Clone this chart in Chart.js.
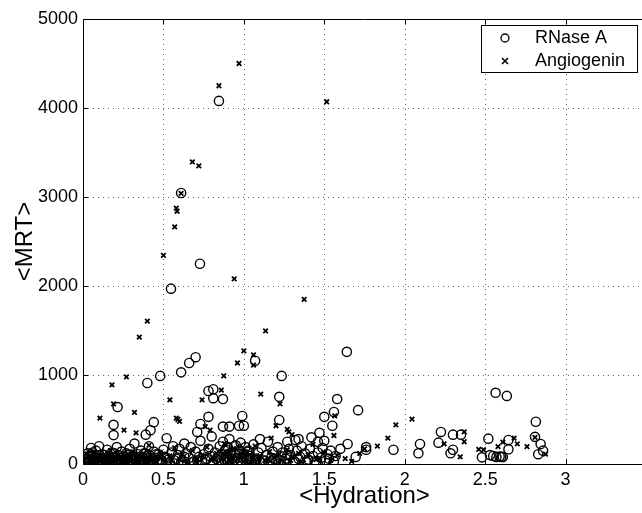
<!DOCTYPE html>
<html>
<head>
<meta charset="utf-8">
<script src="https://cdn.jsdelivr.net/npm/chart.js@4.4.1/dist/chart.umd.min.js"></script>
<style>
  html, body { margin: 0; padding: 0; background: #fff; overflow: hidden; }
  #wrap { position: relative; width: 660px; height: 513px; }
</style>
</head>
<body>
<div id="wrap"><canvas id="scatter"></canvas></div>
<script>
// tick values
const xTicks = [0, 0.5, 1, 1.5, 2, 2.5, 3, 3.5];
const yTicks = [0, 1000, 2000, 3000, 4000, 5000];

// RNase A (cercles) : x = hydration, y = MRT
const rnaseX = [
  0.845, 0.61, 0.727, 0.547, 1.64, 0.70, 0.66, 1.07, 0.61, 0.48, 1.235, 0.40, 0.78, 0.81, 0.81, 0.87,
  1.22, 1.58, 0.215, 1.71, 1.56, 1.5, 0.78, 0.99, 1.22, 0.44, 0.19, 0.73, 0.87, 0.91, 0.97, 1.0,
  1.55, 0.19, 0.42, 0.39, 0.71, 1.47, 2.565, 2.635, 2.815, 2.225, 2.3, 2.35, 2.21, 2.095, 2.085, 2.3,
  2.285, 2.52, 2.48, 2.53, 2.55, 2.57, 2.59, 2.6, 2.61, 2.645, 2.645, 2.81, 2.845, 2.83, 2.86, 1.93,
  1.76, 1.76, 1.645, 1.6, 1.695, 1.1, 1.27, 1.32, 1.34, 1.46,
  0.01, 0.02, 0.03, 0.04, 0.05, 0.06, 0.07, 0.08, 0.09, 0.10, 0.11, 0.12, 0.13, 0.14, 0.15, 0.16,
  0.17, 0.18, 0.19, 0.20, 0.21, 0.22, 0.23, 0.24, 0.25, 0.26, 0.27, 0.28, 0.29, 0.30, 0.31, 0.32,
  0.33, 0.34, 0.35, 0.36, 0.37, 0.38, 0.39, 0.40, 0.41, 0.42, 0.43, 0.44, 0.45, 0.47, 0.49, 0.50,
  0.51, 0.52, 0.53, 0.55, 0.56, 0.58, 0.59, 0.60, 0.62, 0.63, 0.64, 0.66, 0.67, 0.69, 0.70, 0.72,
  0.73, 0.75, 0.76, 0.78, 0.79, 0.80, 0.82, 0.83, 0.85, 0.86, 0.87, 0.88, 0.89, 0.90, 0.91, 0.92,
  0.93, 0.94, 0.95, 0.96, 0.97, 0.98, 0.99, 1.00, 1.01, 1.02, 1.03, 1.04, 1.06, 1.08, 1.09, 1.11,
  1.12, 1.14, 1.15, 1.17, 1.18, 1.20, 1.21, 1.23, 1.24, 1.26, 1.28, 1.29, 1.31, 1.33, 1.35, 1.36,
  1.38, 1.40, 1.41, 1.43, 1.44, 1.46, 1.48, 1.49, 1.51, 1.52, 1.53, 1.54, 1.56, 1.57,
  0.02, 0.04, 0.06, 0.08, 0.12, 0.16, 0.20, 0.24, 0.28, 0.33, 0.37, 0.41, 0.46, 0.54, 0.61, 0.68,
  0.74, 0.81, 0.84, 0.90, 0.93, 1.05, 1.10, 1.16, 1.25, 1.32, 1.39, 1.45,
  0.015, 0.035, 0.055, 0.075, 0.095, 0.115, 0.135, 0.155, 0.175, 0.195, 0.215, 0.235, 0.255, 0.275,
  0.295, 0.315, 0.335, 0.355, 0.375, 0.395, 0.415, 0.435, 0.455, 0.48, 0.52, 0.57, 0.63, 0.71,
  0.77, 0.84, 0.88, 0.89, 0.90, 0.92, 0.94, 0.95, 0.96, 0.98, 1.00, 1.02, 1.04, 1.07, 1.13, 1.19,
  1.27, 1.34, 1.42, 1.50, 0.86, 0.91, 0.97, 1.03, 0.06, 0.14, 0.22, 0.30, 0.38, 0.44
];
const rnaseY = [
  4080, 3045, 2250, 1970, 1260, 1200, 1135, 1160, 1030, 990, 990, 910, 820, 840, 740, 730,
  755, 730, 640, 605, 585, 530, 530, 540, 495, 470, 440, 450, 420, 420, 430, 430,
  430, 325, 380, 330, 360, 350, 800, 765, 475, 360, 330, 330, 240, 225, 120, 160,
  120, 285, 75, 100, 90, 80, 85, 80, 80, 270, 165, 305, 225, 110, 150, 160,
  190, 160, 225, 170, 80, 280, 250, 270, 280, 250,
  20, 60, 120, 40, 180, 90, 30, 150, 70, 200, 40, 110, 60, 20, 160, 90,
  40, 130, 70, 30, 190, 100, 50, 140, 80, 20, 120, 60, 170, 40, 90, 230,
  60, 110, 30, 150, 80, 40, 120, 60, 200, 90, 30, 140, 70, 110, 40, 160,
  80, 290, 50, 130, 200, 60, 100, 170, 40, 230, 120, 70, 190, 30, 140, 80,
  260, 110, 50, 170, 90, 310, 130, 60, 200, 110, 250, 40, 160, 80, 280, 130,
  60, 200, 100, 30, 160, 240, 70, 120, 190, 50, 150, 90, 220, 60, 130, 180,
  40, 100, 250, 70, 140, 30, 190, 90, 130, 60, 170, 100, 40, 150, 80, 200,
  120, 50, 170, 90, 30, 130, 70, 180, 40, 110, 60, 150, 30, 90,
  10, 90, 50, 20, 30, 50, 80, 40, 20, 20, 40, 20, 30, 20, 20, 20,
  30, 20, 40, 20, 10, 20, 30, 20, 20, 20, 20, 20,
  80, 30, 110, 50, 10, 70, 100, 30, 60, 120, 10, 70, 40, 100,
  20, 60, 80, 50, 10, 90, 40, 60, 110, 50, 70, 40, 80, 40,
  60, 80, 150, 60, 190, 100, 40, 210, 70, 30, 90, 140, 60, 50,
  40, 60, 100, 60, 300, 260, 20, 50, 110, 60, 130, 50, 30, 80, 120, 40
];

// Angiogenin (croix)
const angioX = [
  0.97, 0.845, 1.515, 0.68, 0.72, 0.61, 0.58, 0.585, 0.57, 0.5, 0.94, 1.375, 0.4, 1.135, 0.35, 1.0,
  1.06, 1.06, 0.96, 0.875, 0.27, 0.18, 0.86, 1.105, 0.54, 0.74, 0.19, 1.225, 0.32, 0.105, 0.58, 0.59,
  0.6, 2.045, 1.565, 0.255, 1.2, 1.27, 1.28, 1.3, 1.945, 1.895, 1.17, 1.56, 1.83, 2.37, 2.37, 2.245,
  2.345, 2.46, 2.49, 2.61, 2.68, 2.70, 2.76, 2.58, 2.81, 2.875, 0.76, 0.79, 0.33,
  0.01, 0.03, 0.05, 0.07, 0.09, 0.11, 0.13, 0.15, 0.17, 0.19, 0.21, 0.23, 0.25, 0.27, 0.29, 0.31,
  0.33, 0.35, 0.37, 0.39, 0.41, 0.43, 0.46, 0.48, 0.51, 0.54, 0.57, 0.60, 0.62, 0.65, 0.68, 0.71,
  0.74, 0.77, 0.80, 0.83, 0.86, 0.88, 0.90, 0.92, 0.95, 0.97, 1.00, 1.02, 1.05, 1.07, 1.10, 1.13,
  1.16, 1.19, 1.22, 1.25, 1.27, 1.30, 1.34, 1.37, 1.40, 1.43, 1.47, 1.50, 1.54, 1.58, 1.63, 1.67,
  1.72, 1.75,
  0.02, 0.04, 0.06, 0.08, 0.10, 0.12, 0.14, 0.16, 0.18, 0.20, 0.22, 0.24, 0.26, 0.28, 0.30, 0.34,
  0.38, 0.42, 0.45, 0.50, 0.55, 0.63, 0.70, 0.82, 0.87, 0.89, 0.91, 0.93, 0.96, 0.99, 1.04, 1.09,
  1.15, 1.21, 1.29, 1.36, 1.45
];
const angioY = [
  4500, 4250, 4070, 3395, 3350, 3040, 2875, 2840, 2665, 2345, 2080, 1850, 1605, 1495, 1425, 1270,
  1225, 1110, 1135, 990, 980, 890, 830, 785, 720, 720, 675, 675, 580, 515, 515, 500,
  480, 505, 540, 380, 430, 390, 360, 330, 440, 290, 290, 320, 200, 360, 250, 225,
  80, 165, 160, 245, 290, 225, 195, 195, 300, 110, 420, 380, 350,
  40, 80, 20, 130, 50, 100, 30, 80, 150, 40, 110, 60, 20, 90, 50, 140,
  70, 20, 100, 60, 210, 40, 80, 130, 30, 90, 180, 50, 110, 20, 150, 60,
  100, 190, 40, 120, 70, 230, 140, 40, 170, 90, 30, 130, 60, 200, 90, 40,
  140, 70, 110, 30, 160, 80, 120, 50, 100, 220, 60, 130, 40, 100, 60, 30,
  120, 170,
  10, 50, 90, 30, 70, 20, 60, 40, 100, 20, 70, 30, 50, 10, 80, 40,
  30, 60, 20, 50, 40, 30, 20, 50, 120, 80, 30, 160, 60, 110, 20, 50,
  60, 20, 40, 30, 50
];

const seriesLabels = ['RNase A', 'Angiogenin'];

const toPoints = (xs, ys) => xs.map((x, i) => ({ x: x, y: ys[i] }));

// grille en pointillés (sous les points)
const dottedGrid = {
  id: 'dottedGrid',
  beforeDatasetsDraw(chart) {
    const ctx = chart.ctx;
    const a = chart.chartArea;
    const xs = chart.scales.x, ys = chart.scales.y;
    ctx.save();
    ctx.strokeStyle = '#666';
    ctx.lineWidth = 1;
    ctx.setLineDash([1, 4]);
    ctx.beginPath();
    xTicks.slice(1, -1).forEach(v => {
      const px = Math.round(xs.getPixelForValue(v)) + 0.5;
      ctx.moveTo(px, a.top); ctx.lineTo(px, a.bottom);
    });
    yTicks.slice(1, -1).forEach(v => {
      const py = Math.round(ys.getPixelForValue(v)) + 0.5;
      ctx.moveTo(a.left, py); ctx.lineTo(a.right, py);
    });
    ctx.stroke();
    ctx.restore();
  }
};

// cadre, petites graduations et légende façon MATLAB
const framePlugin = {
  id: 'frame',
  afterDatasetsDraw(chart) {
    const ctx = chart.ctx;
    const a = chart.chartArea;
    const xs = chart.scales.x, ys = chart.scales.y;
    ctx.save();
    ctx.setLineDash([]);
    ctx.strokeStyle = '#000';
    ctx.lineWidth = 1;
    ctx.beginPath();
    ctx.moveTo(a.left + 0.5, a.top);
    ctx.lineTo(a.left + 0.5, a.bottom);
    ctx.moveTo(a.left, a.bottom + 0.5);
    ctx.lineTo(a.right, a.bottom + 0.5);
    ctx.moveTo(a.left, a.top + 0.5);
    ctx.lineTo(a.right, a.top + 0.5);
    ctx.stroke();
    // graduations intérieures
    ctx.beginPath();
    xTicks.forEach(v => {
      const px = Math.round(xs.getPixelForValue(v)) + 0.5;
      ctx.moveTo(px, a.bottom); ctx.lineTo(px, a.bottom - 5);
      ctx.moveTo(px, a.top); ctx.lineTo(px, a.top + 5);
    });
    yTicks.forEach(v => {
      const py = Math.round(ys.getPixelForValue(v)) + 0.5;
      ctx.moveTo(a.left, py); ctx.lineTo(a.left + 5, py);
    });
    ctx.stroke();

    // légende
    const bx = 481, by = 25, bw = 156, bh = 47;
    ctx.fillStyle = '#fff';
    ctx.fillRect(bx, by, bw, bh);
    ctx.strokeRect(bx + 0.5, by + 0.5, bw, bh);
    ctx.lineWidth = 1.3;
    ctx.beginPath();
    ctx.arc(505, 38, 4, 0, Math.PI * 2);
    ctx.stroke();
    ctx.lineWidth = 1.6;
    ctx.beginPath();
    ctx.moveTo(502, 58); ctx.lineTo(508, 64);
    ctx.moveTo(508, 58); ctx.lineTo(502, 64);
    ctx.stroke();
    ctx.fillStyle = '#000';
    ctx.font = '18px "Liberation Sans", Arial, sans-serif';
    ctx.textBaseline = 'middle';
    ctx.textAlign = 'left';
    ctx.fillText(seriesLabels[0], 535, 38);
    ctx.fillText(seriesLabels[1], 535, 61);
    ctx.restore();
  }
};

const ctx = document.getElementById('scatter').getContext('2d');
new Chart(ctx, {
  type: 'scatter',
  data: {
    datasets: [
      {
        label: seriesLabels[0],
        data: toPoints(rnaseX, rnaseY),
        pointStyle: 'circle',
        pointRadius: 4.6,
        pointBorderWidth: 1.4,
        borderColor: '#000',
        backgroundColor: 'rgba(0,0,0,0)'
      },
      {
        label: seriesLabels[1],
        data: toPoints(angioX, angioY),
        pointStyle: 'crossRot',
        pointRadius: 3.2,
        pointBorderWidth: 1.8,
        borderColor: '#000',
        backgroundColor: '#000'
      }
    ]
  },
  options: {
    responsive: true,
    maintainAspectRatio: false,
    animation: false,
    layout: { padding: { top: 19, right: 14, left: 0, bottom: 0 } },
    plugins: {
      legend: { display: false },
      tooltip: { enabled: false }
    },
    scales: {
      x: {
        type: 'linear',
        min: 0,
        max: 3.5,
        afterBuildTicks: scale => { scale.ticks = xTicks.map(v => ({ value: v })); },
        afterFit: scale => { scale.height = 49; },
        ticks: {
          color: '#000',
          padding: 5,
          maxRotation: 0,
          autoSkip: false,
          font: { family: '"Liberation Sans", Arial, sans-serif', size: 18 },
          callback: v => (v === 3.5 ? '' : String(v))
        },
        grid: { display: false, drawTicks: false },
        border: { display: false },
        title: {
          display: true,
          text: '<Hydration>',
          color: '#000',
          font: { family: '"Liberation Sans", Arial, sans-serif', size: 24 },
          padding: { top: 0, bottom: 2 }
        }
      },
      y: {
        type: 'linear',
        min: 0,
        max: 5000,
        afterBuildTicks: scale => { scale.ticks = yTicks.map(v => ({ value: v })); },
        afterFit: scale => { scale.width = 83; },
        ticks: {
          color: '#000',
          padding: 5,
          autoSkip: false,
          font: { family: '"Liberation Sans", Arial, sans-serif', size: 18 },
          callback: v => String(v)
        },
        grid: { display: false, drawTicks: false },
        border: { display: false },
        title: {
          display: true,
          text: '<MRT>',
          color: '#000',
          font: { family: '"Liberation Sans", Arial, sans-serif', size: 24 },
          padding: { top: 11, bottom: 0 }
        }
      }
    }
  },
  plugins: [dottedGrid, framePlugin]
});
</script>
</body>
</html>
